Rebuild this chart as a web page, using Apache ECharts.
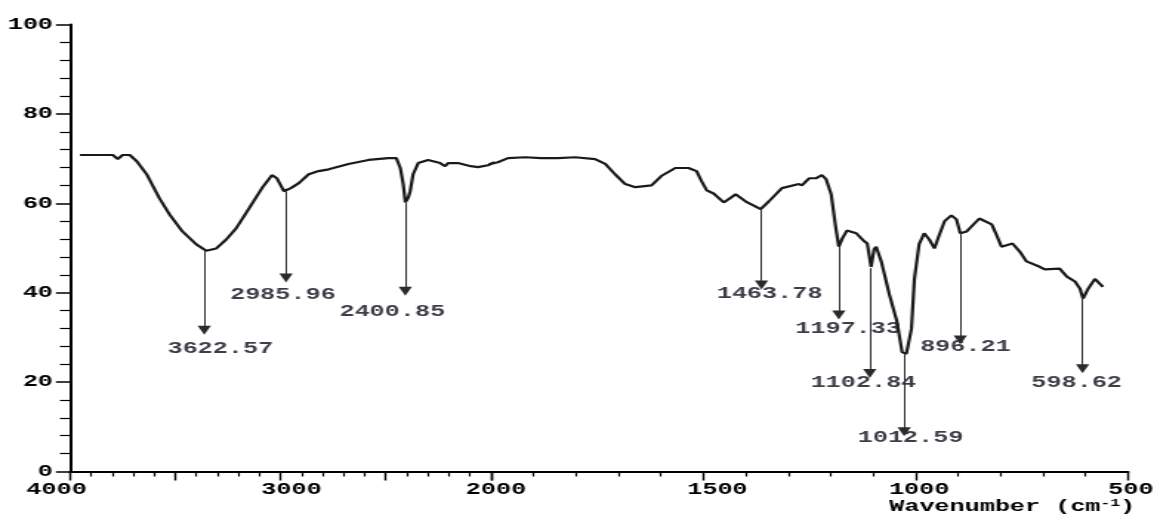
<!DOCTYPE html>
<html><head><meta charset="utf-8">
<script src="https://cdn.jsdelivr.net/npm/echarts@6/dist/echarts.min.js"></script>
<style>
html,body{margin:0;padding:0;overflow:hidden;background:#fff;}
#chart{width:782px;height:514px;transform:scaleX(1.4795);transform-origin:0 0;}
</style></head><body><div id="chart"></div>
<script>
// ---- data ----
const wavenumber = [3953,3797,3773,3750,3716,3683,3636,3575,3527,3466,
 3400,3353,3305,3258,3211,3149,3088,3041,3017,2984,
 2951,2913,2866,2819,2771,2677,2582,2488,2450,2431,
 2417,2407,2393,2384,2370,2346,2299,2242,2218,2204,
 2157,2096,2062,2015,1984,1960,1920,1882,1842,1802,
 1755,1731,1708,1684,1660,1622,1599,1566,1535,1516,
 1504,1492,1476,1452,1424,1400,1365,1346,1315,1275,
 1268,1251,1235,1221,1211,1199,1188,1181,1173,1162,
 1140,1121,1114,1105,1098,1093,1081,1062,1044,1032,
 1022,1010,1003,992,980,968,956,944,932,916,
 904,895,880,850,821,810,798,772,755,739,
 708,696,661,644,625,613,606,595,578,559];
const transmittance = [70.8,70.8,69.9,70.8,70.8,69.4,66.5,61.1,57.5,53.7,
 50.8,49.4,49.9,51.9,54.4,58.9,63.4,66.3,65.6,62.7,
 63.4,64.5,66.5,67.2,67.6,68.8,69.7,70.1,70.1,67.9,
 64.3,60.2,61.3,62.7,66.5,69.0,69.7,69.0,68.3,69.0,
 69.0,68.3,68.1,68.5,69.2,70.1,70.3,70.1,70.1,70.3,
 69.9,68.8,66.5,64.3,63.6,64.0,66.1,67.9,67.9,67.2,
 64.9,62.9,62.2,60.2,62.0,60.4,58.7,60.4,63.4,64.3,
 64.0,65.6,65.6,66.3,65.4,62.0,54.4,50.3,52.1,53.9,
 53.3,51.5,51.0,45.8,49.7,50.3,47.0,39.6,33.5,26.7,
 26.3,31.9,43.1,50.8,53.3,51.9,49.9,53.0,56.0,57.3,
 56.4,53.3,53.7,56.6,55.3,53.0,50.3,51.0,49.2,47.0,
 45.8,45.2,45.4,43.6,42.5,40.9,38.7,40.7,43.1,41.3];
const xTickLabels = ['4000','3000','2000','1500','1000','500'];
// peak annotations (arrow from curve down to arrowhead, label below)
const peakLabels = ['3622.57','2985.96','2400.85','1463.78','1197.33','1102.84','1012.59','896.21','598.62'];
const peakX      = [3362, 2974, 2407, 1363, 1181, 1108, 1027, 895, 607];
const peakTop    = [49.4, 62.7, 60.1, 58.7, 50.3, 45.5, 26.4, 53.3, 38.7];
const arrowHead  = [31.6, 43.3, 40.3, 41.7, 35.0, 21.9, 8.9, 29.4, 23.0];
const labelX     = [3286, 2989, 2469, 1344, 1159, 1123, 1012, 883, 621];
const labelY     = [27.4, 39.6, 35.7, 39.8, 31.9, 19.8, 7.6, 27.9, 19.8];

// ---- chart ----
const FONT = '"Liberation Mono","Courier New",monospace';
const chart = echarts.init(document.getElementById('chart'), null, {renderer:'canvas'});
const pts = wavenumber.map((w,i)=>[w, transmittance[i]]);
const leftPts = pts.filter(p=>p[0]>=1980);
const rightPts = pts.filter(p=>p[0]<=2020);
const peaks = peakLabels.map((t,i)=>({text:t,x:peakX[i],top:peakTop[i],head:arrowHead[i],lx:labelX[i],ly:labelY[i]}));
const isLeft = p=>p.x>=2000;
const arrowData = list=>list.map(p=>[{coord:[p.x,p.top]},{coord:[p.x,p.head]}]);
const labelData = list=>list.map(p=>({name:p.text,value:[p.lx,p.ly]}));

const labelShift = {4000:-9.1,3000:7.4,2000:3.4,1500:9.5,1000:2.4,500:2.0};
const rich = {};
Object.keys(labelShift).forEach(k=>{
  const d = labelShift[k];
  rich['t'+k] = {fontFamily:FONT,fontSize:17,fontWeight:'bold',color:'#000',
    padding: d>=0 ? [0,0,0,2*d] : [0,-2*d,0,0]};
});
function xAxisCfg(gi,min,max){
  return {type:'value',gridIndex:gi,min:min,max:max,interval:500,inverse:true,
    axisLine:{show:true,onZero:false,lineStyle:{color:'#000',width:2}},
    axisTick:{show:true,length:9,lineStyle:{color:'#000',width:1.4}},
    minorTick:{show:true,splitNumber:5,length:5,lineStyle:{color:'#000',width:1.2}},
    splitLine:{show:false},minorSplitLine:{show:false},
    axisLabel:{margin:10,formatter:function(v){
      const s=String(v);
      if(!xTickLabels.includes(s)) return '';
      if(gi===0 && v===2000) return '';
      return '{t'+s+'|'+s+'}';
    },rich:rich}};
}
const markLineCfg = data=>({silent:true,symbol:['none','triangle'],symbolSize:9,animation:false,
  label:{show:false},lineStyle:{color:'#2a2a2a',width:1,type:'solid'},
  emphasis:{disabled:true},data:data});
const lineSeries = (gi,data,ml)=>({type:'line',xAxisIndex:gi,yAxisIndex:gi,data:data,symbol:'none',showSymbol:false,
  lineStyle:{color:'#1a1a1a',width:2.2},clip:true,silent:true,animation:false,markLine:markLineCfg(ml)});
const labelSeries = (gi,data)=>({type:'scatter',xAxisIndex:gi,yAxisIndex:gi,symbolSize:0,data:data,silent:true,animation:false,
  label:{show:true,position:'inside',formatter:'{b}',color:'#0d0d1a',fontFamily:FONT,fontSize:17,fontWeight:'bold'}});

chart.setOption({
  animation:false,
  backgroundColor:'#fff',
  title:{text:'Wavenumber (cm{s|-1})',left:601,top:498,padding:0,
    textStyle:{fontFamily:FONT,fontSize:17,fontWeight:'bold',color:'#000',lineHeight:18,
      rich:{s:{fontFamily:FONT,fontSize:11,fontWeight:'bold',color:'#000',verticalAlign:'top',lineHeight:12}}}},
  grid:[
    {left:47.31,top:24.5,width:284.56,height:447,outerBoundsMode:'none',containLabel:false},
    {left:331.87,top:24.5,width:430.55,height:447,outerBoundsMode:'none',containLabel:false}
  ],
  xAxis:[xAxisCfg(0,2000,4000),xAxisCfg(1,500,2000)],
  yAxis:[
    {type:'value',gridIndex:0,min:0,max:100,interval:20,
      axisLine:{show:true,onZero:false,lineStyle:{color:'#000',width:2}},
      axisTick:{show:true,length:9.5,lineStyle:{color:'#000',width:1.5}},
      minorTick:{show:true,splitNumber:5,length:6.8,lineStyle:{color:'#000',width:1.2}},
      splitLine:{show:false},
      axisLabel:{margin:11.5,color:'#000',fontFamily:FONT,fontSize:17,fontWeight:'bold'}},
    {type:'value',gridIndex:1,min:0,max:100,show:false}
  ],
  series:[
    lineSeries(0,leftPts,arrowData(peaks.filter(isLeft))),
    lineSeries(1,rightPts,arrowData(peaks.filter(p=>!isLeft(p)))),
    labelSeries(0,labelData(peaks.filter(isLeft))),
    labelSeries(1,labelData(peaks.filter(p=>!isLeft(p))))
  ]
});
</script></body></html>
